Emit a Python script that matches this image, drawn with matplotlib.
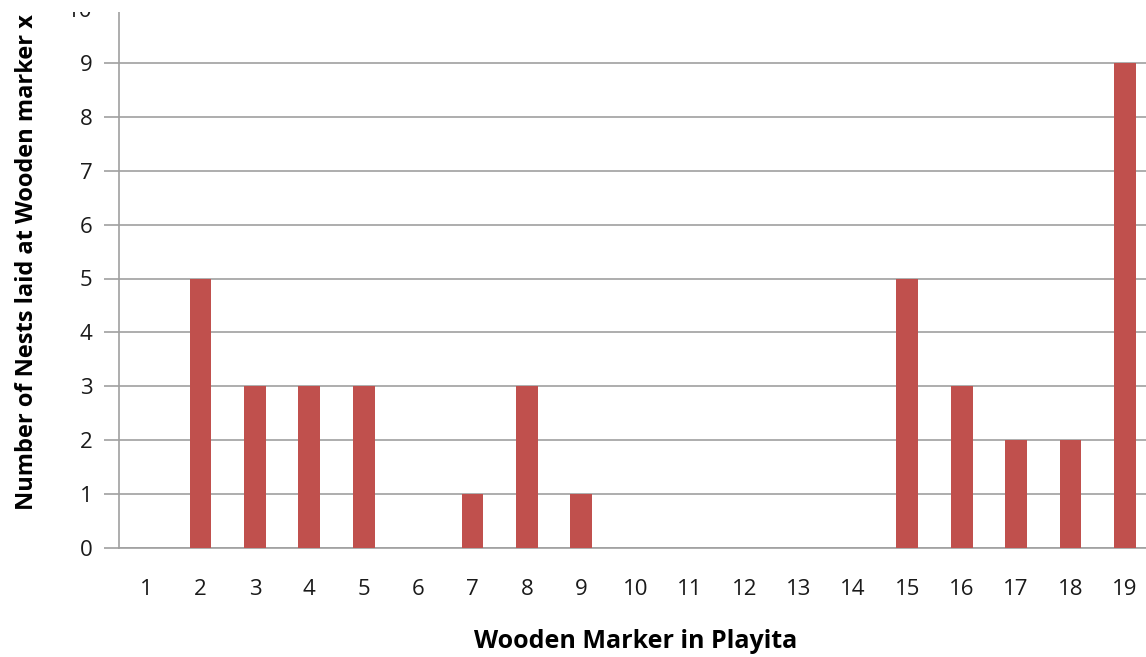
import matplotlib.pyplot as plt
from matplotlib.patches import Rectangle

markers = [str(i) for i in range(1, 20)]
nests = [0, 5, 3, 3, 3, 0, 1, 3, 1, 0, 0, 0, 0, 0, 5, 3, 2, 2, 9]
y_ticks = list(range(0, 11))

plt.rcParams["font.family"] = ["Open Sans", "DejaVu Sans"]

fig = plt.figure(figsize=(11.46, 6.57), dpi=100)
# plot area runs slightly past the right edge of the canvas
ax = fig.add_axes([119 / 1146, 109 / 657, 1033 / 1146, 539 / 657])

x = range(len(markers))
ax.bar(x, nests, width=0.4, color="#C0504D", zorder=3)

ax.set_xlim(-0.5, len(markers) - 0.5)
ax.set_ylim(0, 10)
ax.set_xticks(list(x))
ax.set_xticklabels(markers)
ax.set_yticks(y_ticks)

ax.grid(axis="y", color="#A0A0A0", linewidth=1.2, zorder=0)
for side in ("top", "right"):
    ax.spines[side].set_visible(False)
ax.spines["left"].set_color("#A0A0A0")
ax.spines["bottom"].set_color("#A0A0A0")
ax.spines["left"].set_linewidth(1.2)
ax.spines["bottom"].set_linewidth(1.2)

ax.tick_params(axis="y", length=11, width=1.2, color="#A0A0A0",
               labelsize=16, pad=8, labelcolor="#1a1a1a")
ax.tick_params(axis="x", length=0, labelsize=16, pad=22, labelcolor="#1a1a1a")

ax.set_xlabel("Wooden Marker in Playita", fontsize=18, fontweight="bold", labelpad=21)
ax.set_ylabel("Number of Nests laid at Wooden marker x", fontsize=17,
              fontweight="bold", labelpad=20)
ax.yaxis.label.set_y(0.53)

# top strip of the page is blank, hiding the upper end of the scale
fig.patches.append(Rectangle((0, 1 - 12 / 657), 1, 12 / 657, transform=fig.transFigure,
                             facecolor="white", edgecolor="none", zorder=10))

fig.savefig("out.png", dpi=100)
